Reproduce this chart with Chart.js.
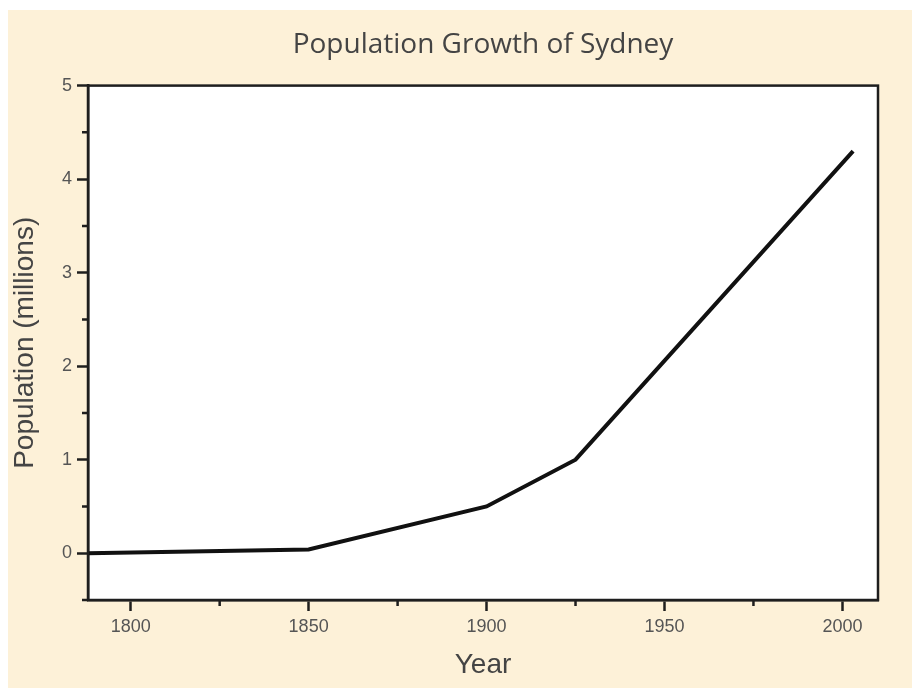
<!DOCTYPE html>
<html>
<head>
<meta charset="utf-8">
<script src="https://cdn.jsdelivr.net/npm/chart.js@4"></script>
<style>
  html, body { margin: 0; padding: 0; background: #fff; }
  #wrap {
    position: absolute; left: 8px; top: 10px;
    width: 904px; height: 678px;
    background: #fdf1d8;
  }
</style>
</head>
<body>
<div id="wrap"><canvas id="popChart"></canvas></div>
<script>
// Population of Sydney
const years = [1788, 1850, 1900, 1925, 2003];
const population = [0, 0.04, 0.5, 1.0, 4.3];

// Tick values
const xMajor = [1800, 1850, 1900, 1950, 2000];
const xMinor = [1825, 1875, 1925, 1975];
const yMajor = [0, 1, 2, 3, 4, 5];
const yMinor = [-0.5, 0.5, 1.5, 2.5, 3.5, 4.5];

const frameColor = '#1e1e1e';
const labelColor = '#555';

// White plot box with a frame, plus short minor ticks
const plotFrame = {
    id: 'plotFrame',
    beforeDraw(chart) {
        const { ctx, chartArea: a } = chart;
        ctx.save();
        ctx.fillStyle = '#fff';
        ctx.fillRect(a.left, a.top, a.right - a.left, a.bottom - a.top);
        ctx.restore();
    },
    afterDraw(chart) {
        const { ctx, chartArea: a, scales } = chart;
        ctx.save();
        ctx.strokeStyle = frameColor;
        ctx.lineWidth = 2.5;
        ctx.strokeRect(a.left, a.top, a.right - a.left, a.bottom - a.top);
        ctx.beginPath();
        xMinor.forEach(v => {
            const px = scales.x.getPixelForValue(v);
            ctx.moveTo(px, a.bottom);
            ctx.lineTo(px, a.bottom + 6);
        });
        yMinor.forEach(v => {
            const py = scales.y.getPixelForValue(v);
            ctx.moveTo(a.left, py);
            ctx.lineTo(a.left - 6, py);
        });
        ctx.stroke();
        ctx.restore();
    }
};

const tickFont = { family: 'Liberation Sans', size: 18 };
const axisTitleFont = { family: 'Liberation Sans', size: 28 };

new Chart(document.getElementById('popChart'), {
    type: 'line',
    data: {
        datasets: [{
            data: years.map((y, i) => ({ x: y, y: population[i] })),
            borderColor: '#111',
            borderWidth: 4,
            pointRadius: 0,
            tension: 0,
            fill: false
        }]
    },
    options: {
        responsive: true,
        maintainAspectRatio: false,
        animation: false,
        layout: { padding: { left: 0, right: 34, top: 0, bottom: 0 } },
        plugins: {
            legend: { display: false },
            tooltip: { enabled: false },
            title: {
                display: true,
                fullSize: false,
                text: 'Population Growth of Sydney',
                color: '#444',
                font: { family: 'Open Sans', size: 28, weight: 'normal', lineHeight: 1.2 },
                padding: { top: 18, bottom: 24 }
            }
        },
        scales: {
            x: {
                type: 'linear',
                min: 1788,
                max: 2010,
                afterBuildTicks: axis => { axis.ticks = xMajor.map(v => ({ value: v })); },
                afterFit: axis => { axis.height = 88; },
                ticks: {
                    color: labelColor,
                    font: tickFont,
                    padding: 5,
                    maxRotation: 0,
                    callback: v => String(v)
                },
                grid: {
                    drawOnChartArea: false,
                    tickLength: 11,
                    tickWidth: 2.5,
                    tickColor: frameColor
                },
                border: { color: frameColor, width: 2.5 },
                title: {
                    display: true,
                    text: 'Year',
                    color: '#444',
                    font: axisTitleFont,
                    padding: { top: 4, bottom: 6 }
                }
            },
            y: {
                min: -0.5,
                max: 5,
                afterBuildTicks: axis => { axis.ticks = yMajor.map(v => ({ value: v })); },
                afterFit: axis => { axis.width = 80; },
                ticks: {
                    color: labelColor,
                    font: tickFont,
                    padding: 5
                },
                grid: {
                    drawOnChartArea: false,
                    tickLength: 11,
                    tickWidth: 2.5,
                    tickColor: frameColor
                },
                border: { color: frameColor, width: 2.5 },
                title: {
                    display: true,
                    text: 'Population (millions)',
                    color: '#444',
                    font: axisTitleFont,
                    padding: { top: 0, bottom: 4 }
                }
            }
        }
    },
    plugins: [plotFrame]
});
</script>
</body>
</html>
